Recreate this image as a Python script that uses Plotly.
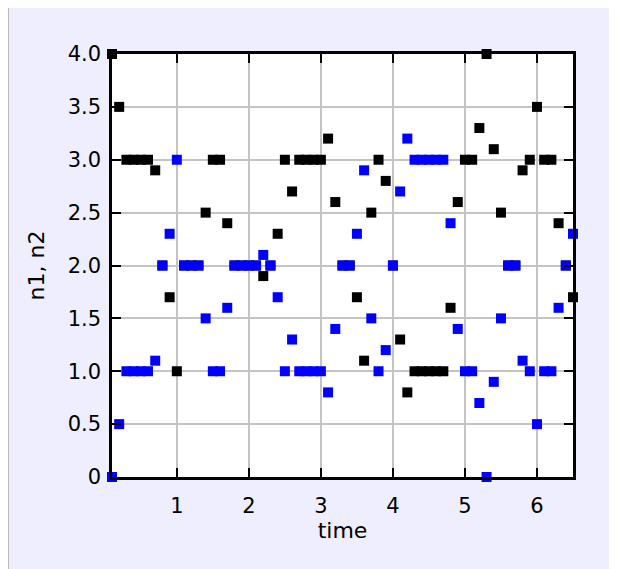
import plotly.graph_objects as go

time = [0.1, 0.2, 0.3, 0.4, 0.5, 0.6, 0.7, 0.8, 0.9, 1.0,
        1.1, 1.2, 1.3, 1.4, 1.5, 1.6, 1.7, 1.8, 1.9, 2.0,
        2.1, 2.2, 2.3, 2.4, 2.5, 2.6, 2.7, 2.8, 2.9, 3.0,
        3.1, 3.2, 3.3, 3.4, 3.5, 3.6, 3.7, 3.8, 3.9, 4.0,
        4.1, 4.2, 4.3, 4.4, 4.5, 4.6, 4.7, 4.8, 4.9, 5.0,
        5.1, 5.2, 5.3, 5.4, 5.5, 5.6, 5.7, 5.8, 5.9, 6.0,
        6.1, 6.2, 6.3, 6.4, 6.5]

n1 = [4.0, 3.5, 3.0, 3.0, 3.0, 3.0, 2.9, 2.0, 1.7, 1.0,
      2.0, 2.0, 2.0, 2.5, 3.0, 3.0, 2.4, 2.0, 2.0, 2.0,
      2.0, 1.9, 2.0, 2.3, 3.0, 2.7, 3.0, 3.0, 3.0, 3.0,
      3.2, 2.6, 2.0, 2.0, 1.7, 1.1, 2.5, 3.0, 2.8, 2.0,
      1.3, 0.8, 1.0, 1.0, 1.0, 1.0, 1.0, 1.6, 2.6, 3.0,
      3.0, 3.3, 4.0, 3.1, 2.5, 2.0, 2.0, 2.9, 3.0, 3.5,
      3.0, 3.0, 2.4, 2.0, 1.7]

n2 = [0.0, 0.5, 1.0, 1.0, 1.0, 1.0, 1.1, 2.0, 2.3, 3.0,
      2.0, 2.0, 2.0, 1.5, 1.0, 1.0, 1.6, 2.0, 2.0, 2.0,
      2.0, 2.1, 2.0, 1.7, 1.0, 1.3, 1.0, 1.0, 1.0, 1.0,
      0.8, 1.4, 2.0, 2.0, 2.3, 2.9, 1.5, 1.0, 1.2, 2.0,
      2.7, 3.2, 3.0, 3.0, 3.0, 3.0, 3.0, 2.4, 1.4, 1.0,
      1.0, 0.7, 0.0, 0.9, 1.5, 2.0, 2.0, 1.1, 1.0, 0.5,
      1.0, 1.0, 1.6, 2.0, 2.3]

x_tickvals = [1, 2, 3, 4, 5, 6]
x_ticktext = ["1", "2", "3", "4", "5", "6"]
y_tickvals = [0, 0.5, 1.0, 1.5, 2.0, 2.5, 3.0, 3.5, 4.0]
y_ticktext = ["0", "0.5", "1.0", "1.5", "2.0", "2.5", "3.0", "3.5", "4.0"]

FONT = "DejaVu Sans"

# page body adds an 8px offset; margins are expressed in figure coordinates
ML, MR, MT, MB = 104, 52, 46, 100
PW = 617 - ML - MR
PH = 569 - MT - MB

fig = go.Figure()
fig.add_trace(go.Scatter(x=time, y=n1, mode="markers", name="n1",
                         marker=dict(symbol="square", size=10, color="#000000",
                                     line=dict(width=0)),
                         cliponaxis=False))
fig.add_trace(go.Scatter(x=time, y=n2, mode="markers", name="n2",
                         marker=dict(symbol="square", size=10, color="#0000ff",
                                     line=dict(width=0)),
                         cliponaxis=False))

axis_common = dict(
    showline=True, linecolor="#000000", linewidth=2.5, mirror="ticks",
    ticks="inside", ticklen=9, tickwidth=2, tickcolor="#000000",
    showgrid=True, gridcolor="#c4c4c4", gridwidth=2,
    zeroline=False,
    tickfont=dict(family=FONT, size=21, color="#000000"),
)

fig.update_layout(
    width=617, height=569,
    margin=dict(l=ML, r=MR, t=MT, b=MB),
    paper_bgcolor="#ffffff",
    plot_bgcolor="#ffffff",
    showlegend=False,
    font=dict(family=FONT, color="#000000"),
    xaxis=dict(range=[0.1, 6.5], tickvals=x_tickvals, ticktext=x_ticktext,
               title=dict(text="time", font=dict(family=FONT, size=22, color="#000000"),
                          standoff=2),
               ticklabelstandoff=8,
               **axis_common),
    yaxis=dict(range=[0, 4], tickvals=y_tickvals, ticktext=y_ticktext,
               title=dict(text="n1, n2", font=dict(family=FONT, size=22, color="#000000"),
                          standoff=17),
               ticklabelstandoff=4,
               **axis_common),
    shapes=[
        dict(type="rect", xref="paper", yref="paper", layer="below",
             x0=(0 - ML) / PW, x1=(605 - ML) / PW,
             y0=(569 - MB - 600) / PH, y1=(569 - MB + 5) / PH,
             fillcolor="#eeeefe", line=dict(color="#a8a8a8", width=1.5)),
        dict(type="rect", xref="paper", yref="paper", layer="below",
             x0=0, x1=1, y0=0, y1=1,
             fillcolor="#ffffff", line=dict(width=0)),
    ],
)

fig.write_html("out.html")
